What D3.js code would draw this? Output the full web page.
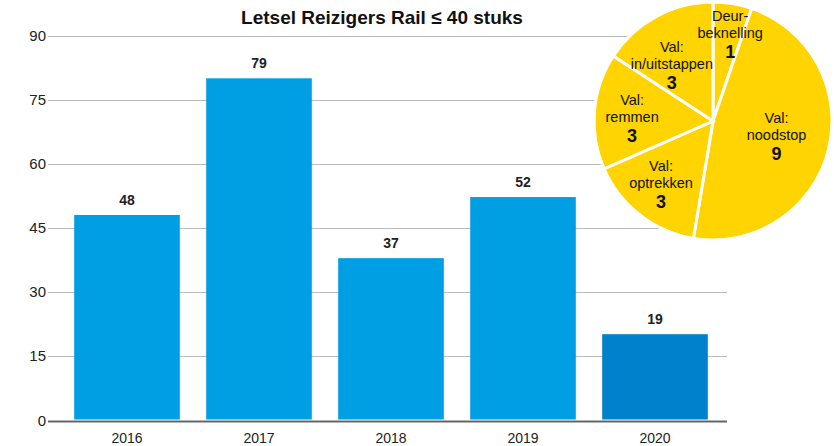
<!DOCTYPE html>
<html>
<head>
<meta charset="utf-8">
<script src="https://cdn.jsdelivr.net/npm/d3@7"></script>
<style>
  body { margin: 0; background: #fff; }
  svg { display: block; font-family: "Liberation Sans", Arial, sans-serif; }
</style>
</head>
<body>
<svg id="chart"></svg>
<script>
var years = ["2016", "2017", "2018", "2019", "2020"],
    injuries = [48, 79, 37, 52, 19],
    // bar heights as drawn in the picture (slightly above the printed numbers)
    barHeights = [48.1, 80.1, 38, 52.3, 20.2],
    yTicks = [0, 15, 30, 45, 60, 75, 90]

var sliceNames = [["Deur-", "beknelling"], ["Val:", "noodstop"], ["Val:", "optrekken"],
                  ["Val:", "remmen"], ["Val:", "in/uitstappen"]],
    sliceValues = [1, 9, 3, 3, 3],
    labelRadius = [90, 65, 81, 81, 70],
    labelTurn = [1.5, -2, 2, -1.7, -7.6]   // degrees, nudge from mid angle

var width = 834,
    height = 446,
    svg = d3.select("#chart").attr("width", width).attr("height", height)

var x = d3.scaleBand()
      .domain(years)
      .range([61, 721])
      .paddingInner(0.2)
      .paddingOuter(0.1),
    y = d3.scaleLinear().domain([0, 90]).range([420.5, 36])

// grid
svg.append("g")
  .selectAll("line")
  .data(yTicks)
  .enter().append("line")
    .attr("x1", 48).attr("x2", 727)
    .attr("y1", (d) => Math.round(y(d)) + 0.5).attr("y2", (d) => Math.round(y(d)) + 0.5)
    .attr("stroke", (d) => d === 0 ? "#666" : "#bbb")
    .attr("stroke-width", (d) => d === 0 ? 2 : 1)

svg.append("g")
  .selectAll("text")
  .data(yTicks)
  .enter().append("text")
    .attr("x", 46)
    .attr("y", (d) => y(d) + 5)
    .attr("text-anchor", "end")
    .attr("font-size", 15)
    .attr("fill", "#222")
    .text((d) => d)

// bars
svg.append("g")
  .selectAll("rect")
  .data(barHeights)
  .enter().append("rect")
    .attr("x", (d, i) => x(years[i]))
    .attr("width", x.bandwidth())
    .attr("y", (d) => y(d))
    .attr("height", (d) => y(0) - y(d) - 1)
    .attr("fill", (d, i) => i === years.length - 1 ? "#0081cb" : "#009fe3")

svg.append("g")
  .selectAll("text")
  .data(injuries)
  .enter().append("text")
    .attr("x", (d, i) => x(years[i]) + x.bandwidth() / 2)
    .attr("y", (d, i) => y(barHeights[i]) - 10)
    .attr("text-anchor", "middle")
    .attr("font-size", 14)
    .attr("font-weight", "bold")
    .attr("fill", "#222")
    .text((d) => d)

svg.append("g")
  .selectAll("text")
  .data(years)
  .enter().append("text")
    .attr("x", (d) => x(d) + x.bandwidth() / 2)
    .attr("y", 443)
    .attr("text-anchor", "middle")
    .attr("font-size", 14)
    .attr("fill", "#222")
    .text((d) => d)

svg.append("text")
  .attr("x", 382).attr("y", 24)
  .attr("text-anchor", "middle")
  .attr("font-size", 19)
  .attr("font-weight", "bold")
  .attr("fill", "#111")
  .text("Letsel Reizigers Rail \u2264 40 stuks")

// pie
var pie = d3.pie().sort(null)(sliceValues),
    arc = d3.arc().innerRadius(0).outerRadius(119),
    g = svg.append("g").attr("transform", "translate(713,121)")

g.selectAll("path")
  .data(pie)
  .enter().append("path")
    .attr("d", arc)
    .attr("fill", "#ffd400")
    .attr("stroke", "#fff")
    .attr("stroke-width", 3)

var labels = g.selectAll("g.lbl")
  .data(pie)
  .enter().append("g")
    .attr("class", "lbl")
    .attr("fill", "#111")
    .attr("transform", (d, i) => {
      var a = (d.startAngle + d.endAngle) / 2 + labelTurn[i] * Math.PI / 180,
          r = labelRadius[i]
      return `translate(${Math.sin(a) * r},${-Math.cos(a) * r})`
    })

labels.each(function(d, i) {
  var el = d3.select(this)
  sliceNames[i].forEach((line, j) => {
    el.append("text")
      .attr("y", -12 + j * 17)
      .attr("text-anchor", "middle")
      .attr("font-size", 14.5)
      .text(line)
  })
  el.append("text")
    .attr("y", 25)
    .attr("text-anchor", "middle")
    .attr("font-size", 18)
    .attr("font-weight", "bold")
    .text(d.value)
})
</script>
</body>
</html>
